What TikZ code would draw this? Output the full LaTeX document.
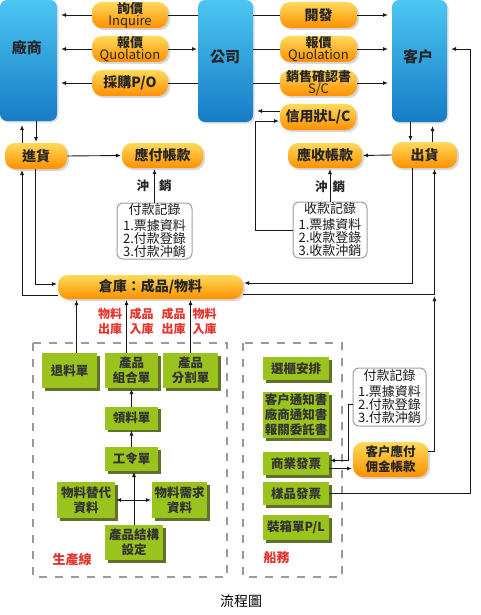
\documentclass[tikz,border=0pt]{standalone}
\usepackage{fontspec}
\setmainfont{Noto Sans CJK TC}
\usetikzlibrary{arrows.meta,shadows,calc}
\definecolor{blueT}{HTML}{4CC6F2}
\definecolor{blueB}{HTML}{167CC6}
\definecolor{orT}{HTML}{FFDA5C}
\definecolor{orB}{HTML}{FF9000}
\definecolor{grn}{HTML}{9AC31E}
\definecolor{grnS}{HTML}{4F6214}
\definecolor{redT}{HTML}{E4342E}
\definecolor{dashG}{HTML}{999999}
\definecolor{recG}{HTML}{A0A0A0}
\begin{document}
\begin{tikzpicture}[x=1pt,y=-1pt,
 every node/.style={inner sep=0pt, outer sep=0pt},
 bluebox/.style={rounded corners=7pt, top color=blueT, bottom color=blueB, draw=none, drop shadow={shadow xshift=1.5pt,shadow yshift=-1.5pt,opacity=0.25}},
 bluetext/.style={font=\bfseries\fontsize{15pt}{15pt}\selectfont, text=black!85},
 pill/.style={rounded corners=10pt, top color=orT, bottom color=orB, align=center, text=black!85, font=\bfseries\fontsize{14pt}{14pt}\selectfont, drop shadow={shadow xshift=2pt,shadow yshift=-2pt,opacity=0.3}},
 pilltwo/.style={pill, font=\bfseries\fontsize{13pt}{12pt}\selectfont},
 gbox/.style={fill=grn, align=center, text=black!80, font=\bfseries\fontsize{12.5pt}{15pt}\selectfont, drop shadow={shadow xshift=2.5pt,shadow yshift=-2.5pt,fill=grnS,opacity=0.9}},
 rec/.style={draw=recG, line width=1pt, fill=white, rounded corners=6pt, align=center, text=black!90, font=\fontsize{13pt}{11.5pt}\selectfont},
 redl/.style={text=redT, align=center, font=\bfseries\fontsize{12pt}{15pt}\selectfont},
 arr/.style={draw=black!90, line width=0.9pt, -{Latex[length=5pt,width=4pt]}, shorten >=1pt},
 arrb/.style={arr, shorten >=4pt},
 ln/.style={draw=black!90, line width=0.9pt},
 dbox/.style={draw=dashG, line width=2.5pt, dash pattern=on 8pt off 8pt},
]
\useasboundingbox (0,0) rectangle (480,615);
\fill[white] (0,0) rectangle (480,615);

% dashed groups
\draw[dbox] (33,343) rectangle (227,577);
\draw[dbox] (243,343) rectangle (342,577);

% blue boxes
\node[bluebox, minimum width=57pt, minimum height=121pt] (vendor) at (28.5,60.5) {};
\node[bluetext] (vendorT) at (27,48) {廠商};
\node[bluebox, minimum width=55pt, minimum height=122pt] (company) at (225.5,61) {};
\node[bluetext] (companyT) at (225,57) {公司};
\node[bluebox, minimum width=55pt, minimum height=122pt] (customer) at (419.5,61) {};
\node[bluetext] (customerT) at (418,57) {客户};

% orange pills
\node[pilltwo, minimum width=76pt, minimum height=26pt] (inq) at (130,15) {詢價\\\mdseries Inquire};
\node[pilltwo, minimum width=76pt, minimum height=26pt] (quoL) at (130,49) {報價\\\mdseries Quolation};
\node[pill, minimum width=76pt, minimum height=26pt] (po) at (130,83) {採購P/O};
\node[pill, minimum width=77pt, minimum height=26pt] (dev) at (318.5,15) {開發};
\node[pilltwo, minimum width=77pt, minimum height=26pt] (quoR) at (318.5,49) {報價\\\mdseries Quolation};
\node[pilltwo, minimum width=77pt, minimum height=26pt] (sc) at (318.5,83) {銷售確認書\\\mdseries S/C};
\node[pill, minimum width=76pt, minimum height=26pt] (lc) at (318,117) {信用狀L/C};
\node[pill, minimum width=62pt, minimum height=26pt] (buy) at (36,156) {進貨};
\node[pill, minimum width=81pt, minimum height=25pt] (ap) at (162.5,155.5) {應付帳款};
\node[pill, minimum width=74pt, minimum height=25pt] (ar) at (325,155.5) {應收帳款};
\node[pill, minimum width=65pt, minimum height=26pt] (ship) at (424.5,155) {出貨};
\node[pill, minimum width=185pt, minimum height=24pt] (wh) at (150.5,287) {倉庫：成品/物料};
\node[pill, minimum width=75pt, minimum height=35pt, font=\bfseries\fontsize{12.5pt}{15pt}\selectfont] (comm) at (390.5,459.5) {客户應付\\佣金帳款};

% record boxes
\node[rec, minimum width=75pt, minimum height=56pt] (recL) at (154.5,231) {付款記錄\\[3pt]1.票據資料\\2.付款登錄\\3.付款沖銷};
\node[rec, minimum width=74pt, minimum height=56pt] (recR) at (330,230) {收款記錄\\[3pt]1.票據資料\\2.收款登錄\\3.收款沖銷};
\node[rec, minimum width=73pt, minimum height=58pt] (recR2) at (389.5,397) {付款記錄\\[3pt]1.票據資料\\2.付款登錄\\3.付款沖銷};

% green boxes
\node[gbox, minimum width=55pt, minimum height=35pt] (ret) at (69.5,370.5) {退料單};
\node[gbox, minimum width=53pt, minimum height=35pt] (asm) at (131.5,370.5) {產品\\組合單};
\node[gbox, minimum width=55pt, minimum height=35pt] (split) at (190.5,370.5) {產品\\分割單};
\node[gbox, minimum width=53pt, minimum height=23pt] (pick) at (131.5,418) {領料單};
\node[gbox, minimum width=53pt, minimum height=24pt] (wo) at (131.5,459) {工令單};
\node[gbox, minimum width=58pt, minimum height=36pt] (sub) at (86,500) {物料替代\\資料};
\node[gbox, minimum width=55pt, minimum height=36pt] (req) at (179.5,500) {物料需求\\資料};
\node[gbox, minimum width=58pt, minimum height=35pt] (bom) at (134,542.5) {產品結構\\設定};
\node[gbox, minimum width=66pt, minimum height=23pt] (sel) at (296,368.5) {選櫃安排};
\node[gbox, minimum width=66pt, minimum height=46pt] (notice) at (296,415) {客户通知書\\廠商通知書\\報關委託書};
\node[gbox, minimum width=66pt, minimum height=23pt] (inv) at (296,463.5) {商業發票};
\node[gbox, minimum width=66pt, minimum height=23pt] (sample) at (296,493.5) {樣品發票};
\node[gbox, minimum width=66pt, minimum height=25pt] (pl) at (296,527.5) {裝箱單P/L};

% red labels
\node[redl] (l1) at (110,321) {物料\\出庫};
\node[redl] (l2) at (141.5,321) {成品\\入庫};
\node[redl] (l3) at (173.5,321) {成品\\出庫};
\node[redl] (l4) at (204.5,321) {物料\\入庫};
\node[redl, font=\bfseries\fontsize{13pt}{13pt}\selectfont] (lprod) at (72,560) {生產線};
\node[redl, font=\bfseries\fontsize{13pt}{13pt}\selectfont] (lship) at (276.5,558) {船務};

% offset labels
\node[font=\bfseries\fontsize{12.5pt}{12.5pt}\selectfont, text=black!85] (offL) at (154,186) {沖\hspace{10pt}銷};
\node[font=\bfseries\fontsize{12.5pt}{12.5pt}\selectfont, text=black!85] (offR) at (330,187) {沖\hspace{5pt}銷};

% caption
\node[font=\fontsize{14pt}{14pt}\selectfont] (cap) at (241,601) {流程圖};

% ---- connectors: top rows
\draw[ln] (inq.east -| company.west) -- (inq.east);
\draw[arrb] (inq.west) -- (inq.west -| vendor.east);
\draw[arrb] (quoL.west) -- (quoL.west -| vendor.east);
\draw[arr] (quoL.east) -- (quoL.east -| company.west);
\draw[ln] (po.east -| company.west) -- (po.east);
\draw[arrb] (po.west) -- (po.west -| vendor.east);

\draw[ln] (dev.west -| company.east) -- (dev.west);
\draw[arrb] (dev.east) -- (dev.east -| customer.west);
\draw[ln] (quoR.west -| company.east) -- (quoR.west);
\draw[arrb] (quoR.east) -- (quoR.east -| customer.west);
\draw[ln] (sc.west -| company.east) -- (sc.west);
\draw[arrb] (sc.east) -- (sc.east -| customer.west);

\coordinate (lcO) at ($(lc.west)+(0,-6)$);
\draw[arrb] (lcO) -- (lcO -| company.east);
\coordinate (lcK) at (255,121);
\draw[arr] (recR.west) -| (lcK) -- (lcK -| lc.west);

% vendor <-> buy
\coordinate (bLn) at ([xshift=-14pt]buy.north);
\coordinate (bLs) at ([xshift=-14pt]buy.south);
\draw[arrb] (bLn) -- (bLn |- vendor.south);
\draw[arr] (buy.north |- vendor.south) -- (buy.north);
\draw[arr] (buy.east) -- (ap.west);
\draw[arr] (recL.north) -- (recL.north |- ap.south);
\draw[arr] ([xshift=-1pt]buy.south) |- ([yshift=3pt]wh.west);
\draw[arr] ([yshift=-8pt]wh.west) -| (bLs);

% customer <-> ship
\coordinate (sdn) at ([xshift=-14pt]ship.north);
\coordinate (sup) at ([xshift=8pt]ship.north);
\draw[arr] (sdn |- customer.south) -- (sdn);
\draw[arrb] (sup) -- (sup |- customer.south);
\draw[arr] (ship.west) -- (ar.east);
\draw[arr] (recR.north) -- (recR.north |- ar.south);
\draw[arr] ([xshift=-12pt]ship.south) |- ([yshift=4pt]wh.east);
\coordinate (jx) at ([xshift=10pt]ship.south);
\coordinate (jy) at ([yshift=-7pt]wh.east);
\draw[arr] (jy) -| (jx);
\draw[arr, shorten >=2pt] ([yshift=8pt]comm.east) -| (jx |- jy);

% sample invoice -> customer
\coordinate (farR) at (470,49);
\draw[arrb] (sample.east) -| (farR) -- (farR -| customer.east);

% payment record -> invoice -> commission
\coordinate (k1) at (348,404);
\draw[arr] (k1 -| recR2.west) -- (k1) |- ([yshift=3pt]inv.east);
\draw[arr] ([yshift=-5pt]inv.east) -- ([yshift=-5pt]inv.east -| comm.west);

% production line
\draw[arr] ([xshift=7pt]ret.north) -- ([xshift=7pt]ret.north |- wh.south);
\draw[arr] ([xshift=-5pt]asm.north) -- ([xshift=-5pt]asm.north |- wh.south);
\draw[arr] (split.north) -- (split.north |- wh.south);
\draw[arr] (pick.north) -- (pick.north |- asm.south);
\draw[arr] (wo.north) -- (wo.north |- pick.south);
\draw[arr] (bom.north) -- (bom.north |- wo.south);
\draw[ln, {Latex[length=5pt,width=4pt]}-{Latex[length=5pt,width=4pt]}, shorten <=1pt, shorten >=1pt] (sub.east) -- (req.west);
\end{tikzpicture}
\end{document}
